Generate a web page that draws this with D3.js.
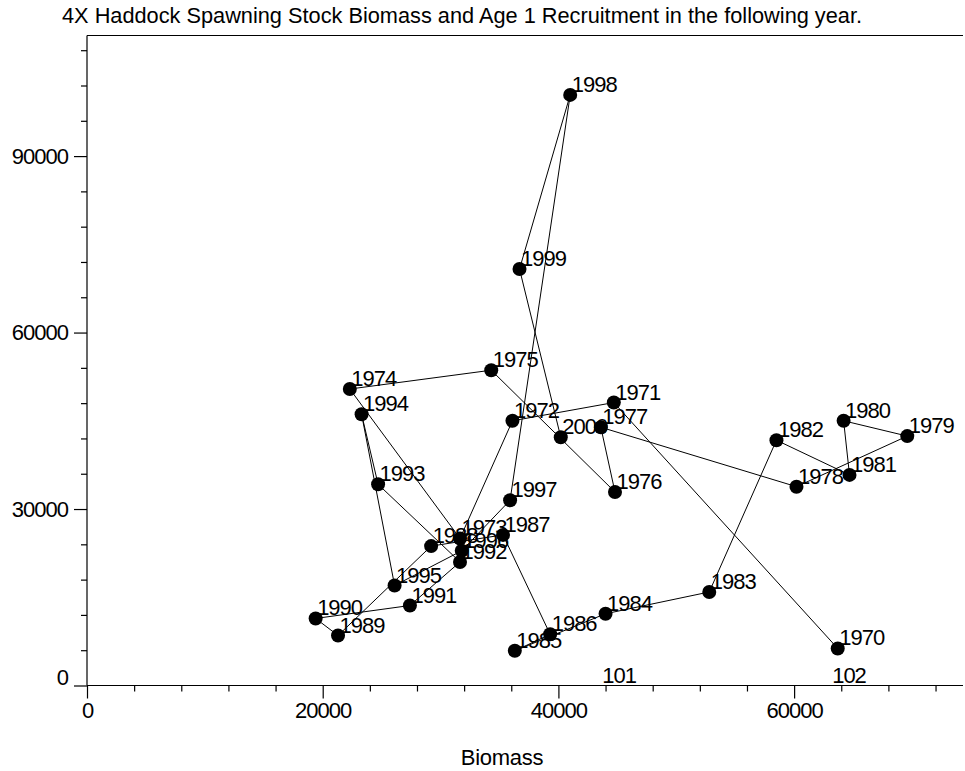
<!DOCTYPE html>
<html>
<head>
<meta charset="utf-8">
<script src="https://cdn.jsdelivr.net/npm/d3@7"></script>
<style>
  html, body { margin: 0; padding: 0; background: #fff; }
  svg { display: block; font-family: "Liberation Sans", Arial, Helvetica, sans-serif; }
  text { fill: #000; }
</style>
</head>
<body>
<svg id="chart" width="965" height="771"></svg>
<script>
// Spawning stock biomass (x) and age-1 recruitment in the following year (y)
const years = [1970, 1971, 1972, 1973, 1974, 1975, 1976, 1977, 1978, 1979,
               1980, 1981, 1982, 1983, 1984, 1985, 1986, 1987, 1988, 1989,
               1990, 1991, 1992, 1993, 1994, 1995, 1996, 1997, 1998, 1999, 2000];
const biomass = [63700, 44700, 36100, 31650, 22300, 34300, 44800, 43600, 60200, 69600,
                 64200, 64700, 58500, 52800, 44000, 36300, 39300, 35300, 29200, 21300,
                 19400, 27400, 31650, 24700, 23300, 26100, 31800, 35900, 41000, 36700, 40200];
const recruits = [6300, 48100, 45000, 25000, 50400, 53600, 32900, 43900, 33800, 42400,
                  45000, 35800, 41700, 15900, 12200, 5900, 8700, 25600, 23700, 8500,
                  11400, 13600, 21000, 34200, 46100, 17000, 22900, 31500, 100400, 70800, 42200];

// Stray point labels sitting on the x axis (no marker drawn)
const noteLabels = ["101", "102"];
const noteBiomass = [43600, 63100];
const noteRecruits = [0, 0];

const xMajorTicks = [0, 20000, 40000, 60000];
const yMajorTicks = [0, 30000, 60000, 90000];

const titleText = "4X Haddock Spawning Stock Biomass and Age 1 Recruitment in the following year.";
const xTitle = "Biomass";

const svg = d3.select("#chart");
const plotLeft = 87, plotRight = 963, plotTop = 35.5, plotBottom = 685.5;
const fontSize = 22;

const x = d3.scaleLinear().domain([0, 74330]).range([plotLeft, plotRight]);
const y = d3.scaleLinear().domain([0, 110500]).range([plotBottom, plotTop]);

const points = years.map((yr, i) => ({ year: yr, b: biomass[i], r: recruits[i] }));

// Frame: left, bottom and top edges
svg.append("line").attr("x1", plotLeft).attr("x2", plotLeft).attr("y1", plotTop).attr("y2", plotBottom)
  .attr("stroke", "#000").attr("stroke-width", 1.2);
svg.append("line").attr("x1", plotLeft).attr("x2", plotRight).attr("y1", plotBottom).attr("y2", plotBottom)
  .attr("stroke", "#000").attr("stroke-width", 1.2);
svg.append("line").attr("x1", plotLeft).attr("x2", plotRight).attr("y1", plotTop).attr("y2", plotTop)
  .attr("stroke", "#000").attr("stroke-width", 1.2);

// X axis: major ticks with labels, minor ticks every 4000
const xMinor = d3.range(0, 74330, 4000).filter(v => v % 20000 !== 0);
const gxMinor = svg.append("g").attr("transform", `translate(0,${plotBottom})`)
  .call(d3.axisBottom(x).tickValues(xMinor).tickSize(6).tickFormat(""));
const gx = svg.append("g").attr("transform", `translate(0,${plotBottom})`)
  .call(d3.axisBottom(x).tickValues(xMajorTicks).tickSize(13).tickPadding(4).tickFormat(d3.format("d")));

// Y axis: major ticks with labels, minor ticks every 6000
const yMinor = d3.range(0, 110500, 6000).filter(v => v % 30000 !== 0);
const gyMinor = svg.append("g").attr("transform", `translate(${plotLeft},0)`)
  .call(d3.axisLeft(y).tickValues(yMinor).tickSize(6).tickFormat(""));
const gy = svg.append("g").attr("transform", `translate(${plotLeft},0)`)
  .call(d3.axisLeft(y).tickValues(yMajorTicks).tickSize(13).tickPadding(6).tickFormat(d3.format("d")));

[gx, gy, gxMinor, gyMinor].forEach(g => {
  g.select(".domain").remove();
  g.selectAll(".tick line").attr("stroke", "#000").attr("stroke-width", 1.2);
  g.selectAll("text").attr("font-size", fontSize).attr("letter-spacing", -1)
    .attr("font-family", '"Liberation Sans", Arial, sans-serif').attr("fill", "#000");
});
// The zero label on the value axis sits just above the corner
gy.selectAll(".tick").filter(d => d === 0).select("text").attr("dy", "-0.05em");

// Connecting path in year order
const line = d3.line().x(d => x(d.b)).y(d => y(d.r));
svg.append("path").datum(points).attr("d", line)
  .attr("fill", "none").attr("stroke", "#000").attr("stroke-width", 1);

// Year labels
svg.append("g").selectAll("text").data(points).join("text")
  .attr("x", d => x(d.b) + 1.5).attr("y", d => y(d.r) - 3)
  .attr("font-size", fontSize).attr("letter-spacing", -1)
  .text(d => d.year);

// Stray labels on the axis
svg.append("g").selectAll("text").data(noteLabels).join("text")
  .attr("x", (d, i) => x(noteBiomass[i]) + 1.5).attr("y", (d, i) => y(noteRecruits[i]) - 3)
  .attr("font-size", fontSize).attr("letter-spacing", -1)
  .text(d => d);

// Markers
svg.append("g").selectAll("circle").data(points).join("circle")
  .attr("cx", d => x(d.b)).attr("cy", d => y(d.r)).attr("r", 7)
  .attr("fill", "#000");

// Titles
svg.append("text").attr("x", 62).attr("y", 23)
  .attr("font-size", fontSize).attr("textLength", 800).attr("lengthAdjust", "spacingAndGlyphs")
  .text(titleText);
svg.append("text").attr("x", 502).attr("y", 765).attr("text-anchor", "middle")
  .attr("font-size", fontSize).attr("letter-spacing", -0.3)
  .text(xTitle);
</script>
</body>
</html>
